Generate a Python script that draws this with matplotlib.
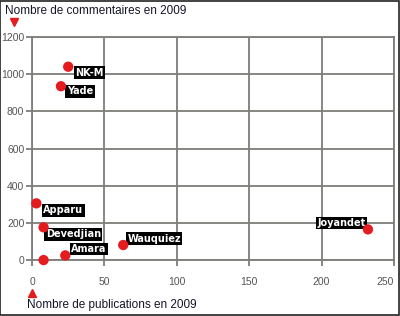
import matplotlib
matplotlib.use("Agg")
import matplotlib.pyplot as plt
from matplotlib.patches import Rectangle

# publications vs comments, 2009
names = ['NK-M', 'Yade', 'Apparu', 'Devedjian', 'Amara', '', 'Wauquiez', 'Joyandet']
publications = [25, 20, 3, 8, 23, 8, 63, 232]
commentaires = [1040, 935, 305, 176, 25, 0, 81, 165]

xticks = [0, 50, 100, 150, 200, 250]
yticks = [0, 200, 400, 600, 800, 1000, 1200]

# label offsets in points (dx, dy, ha)
offsets = {
    'NK-M': (5, -4.3, 'left'),
    'Yade': (4.3, -3.6, 'left'),
    'Apparu': (5, -5, 'left'),
    'Devedjian': (1.5, -5, 'left'),
    'Amara': (4.3, 4.6, 'left'),
    'Wauquiez': (3, 4.6, 'left'),
    'Joyandet': (-1.5, 4.6, 'right'),
}

red = '#e41b1f'
grid_col = '#7f7d7a'

plt.rcParams['font.family'] = ['Liberation Sans', 'DejaVu Sans']

fig = plt.figure(figsize=(4, 3.16), dpi=100)
ax = fig.add_axes([0.08, 0.177, 0.905, 0.706])

ax.scatter(publications, commentaires, s=55, color=red, zorder=4, clip_on=False,
           edgecolors='none')

for n, x, y in zip(names, publications, commentaires):
    if not n:
        continue
    dx, dy, ha = offsets[n]
    ax.annotate(n, (x, y), xytext=(dx, dy), textcoords='offset points',
                ha=ha, va='center', color='white', fontsize=7, fontweight='bold',
                family=['Liberation Sans Narrow', 'DejaVu Sans'], zorder=3,
                bbox=dict(boxstyle='square,pad=0.15', fc='black', ec='none'))

ax.set_xlim(0, 250)
ax.set_ylim(0, 1200)
ax.set_xticks(xticks)
ax.set_yticks(yticks)
ax.grid(True, color=grid_col, linewidth=1.3, zorder=0)
ax.set_axisbelow(True)
for s in ax.spines.values():
    s.set_color(grid_col)
    s.set_linewidth(1.3)
ax.tick_params(axis='both', colors=grid_col, labelcolor='#555555', labelsize=7.5,
               width=1.3)
ax.tick_params(axis='y', length=4, pad=1.5)
ax.tick_params(axis='x', length=4, pad=8)
ax.get_xticklabels()[-1].set_ha('right')

fig.text(5 / 400, 1 - 11 / 316, 'Nombre de commentaires en 2009', fontsize=8.5,
         color='#15152a', ha='left', va='center')
fig.text(27 / 400, 1 - 305 / 316, 'Nombre de publications en 2009', fontsize=8.5,
         color='#15152a', ha='left', va='center')
fig.lines.append(plt.Line2D([14 / 400], [1 - 22 / 316], marker='v', color=red,
                            markersize=6, transform=fig.transFigure))
fig.lines.append(plt.Line2D([32 / 400], [1 - 293 / 316], marker='^', color=red,
                            markersize=6, transform=fig.transFigure))

# thin frame round the whole picture
fig.patches.append(Rectangle((0.001, 0.002), 0.997, 0.996, transform=fig.transFigure,
                             fill=False, ec='#222222', lw=1.2))

fig.savefig('out.png', dpi=100)
